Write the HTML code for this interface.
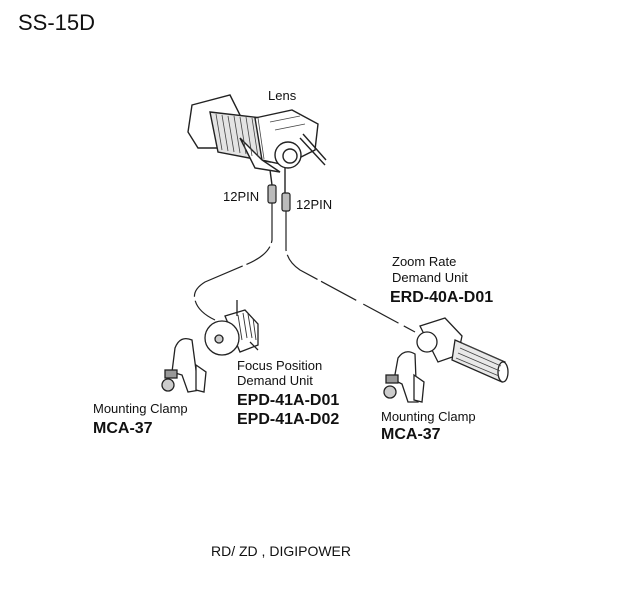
<!DOCTYPE html>
<html><head><meta charset="utf-8"><style>
body{margin:0;background:#fff;}
svg{display:block;}
text{font-family:"Liberation Sans",sans-serif;fill:#111;}
.b{font-weight:bold;}
</style></head><body>
<svg width="633" height="605" viewBox="0 0 633 605" xmlns="http://www.w3.org/2000/svg">
<rect width="633" height="605" fill="#fff"/>
<text x="18" y="30" font-size="22" fill="#222">SS-15D</text>

<!-- Lens -->
<g stroke="#222" stroke-width="1.4" fill="#fff">
  <path d="M192 105 L230 95 L240 115 L240 148 L198 148 L188 132 Z"/>
  <path d="M210 112 L262 118 L270 162 L218 152 Z" fill="#e4e4e4"/>
  <path d="M255 118 L292 110 L318 124 L315 150 L285 165 L262 160 Z"/>
  <path d="M240 138 L262 160 L280 172 L255 168 Z"/>
  <circle cx="288" cy="155" r="13"/>
  <circle cx="290" cy="156" r="7"/>
  <path d="M300 138 L325 165 M303 134 L326 160" />
  <path d="M270 170 L272 185" />
  <path d="M285 168 L285 193" />
</g>
<g stroke="#444" stroke-width="0.8">
  <path d="M216 114 L222 150 M222 115 L228 151 M228 116 L234 152 M234 116 L240 153 M240 117 L246 154 M246 117 L252 156 M252 118 L258 157 M258 118 L264 159"/>
  <path d="M270 122 L300 116 M275 130 L305 124"/>
</g>
<text x="268" y="100" font-size="13">Lens</text>
<!-- connectors -->
<g stroke="#222" stroke-width="1.2" fill="#bbb">
  <rect x="268" y="185" width="8" height="18" rx="2"/>
  <rect x="282" y="193" width="8" height="18" rx="2"/>
</g>
<text x="223" y="201" font-size="13">12PIN</text>
<text x="296" y="209" font-size="13">12PIN</text>

<!-- cables -->
<g stroke="#222" stroke-width="1.2" fill="none">
  <path d="M272 203 L272 240 Q270 255 245 265 L205 282 Q192 290 195 300 Q198 312 215 320" stroke-dasharray="40 4 30 4 60 4 200"/>
  <path d="M286 211 L286 250 Q288 262 300 270 L415 332" stroke-dasharray="40 4 40 4 40 8 40 6 100"/>
</g>

<!-- Focus demand unit -->
<g stroke="#222" stroke-width="1.3" fill="#fff">
  <path d="M225 316 L245 310 L258 324 L258 345 L240 352 Z"/>
  <circle cx="222" cy="338" r="17"/>
  <circle cx="219" cy="339" r="4" fill="#ccc"/>
  <path d="M237 300 L237 316 M250 342 L258 350"/>
</g>
<g stroke="#333" stroke-width="0.9"><path d="M238 315 L242 340 M243 313 L247 338 M248 314 L252 338 M253 318 L256 340"/></g>
<text x="237" y="370" font-size="13">Focus Position</text>
<text x="237" y="385" font-size="13">Demand Unit</text>
<text x="237" y="405" font-size="16" class="b">EPD-41A-D01</text>
<text x="237" y="424" font-size="16" class="b">EPD-41A-D02</text>

<!-- Left clamp -->
<g stroke="#222" stroke-width="1.3" fill="#fff">
  <path d="M175 348 Q180 335 192 340 L196 370 L200 390 L188 392 L182 375 L172 372 Z"/>
  <path d="M196 365 L206 372 L204 392 L196 390 Z"/>
  <rect x="165" y="370" width="12" height="8" fill="#999"/>
  <circle cx="168" cy="385" r="6" fill="#ccc"/>
</g>
<text x="93" y="413" font-size="13">Mounting Clamp</text>
<text x="93" y="433" font-size="16" class="b">MCA-37</text>

<!-- Zoom demand unit -->
<g stroke="#222" stroke-width="1.3" fill="#fff">
  <path d="M420 326 L445 318 L462 336 L458 355 L438 362 Z"/>
  <circle cx="427" cy="342" r="10"/>
  <path d="M455 340 L505 362 L502 382 L452 360 Z" fill="#e8e8e8"/>
  <ellipse cx="503" cy="372" rx="5" ry="10" />
</g>
<g stroke="#444" stroke-width="0.8"><path d="M462 343 L502 361 M460 348 L501 366 M458 353 L500 371 M456 358 L499 376"/></g>
<text x="392" y="266" font-size="13">Zoom Rate</text>
<text x="392" y="282" font-size="13">Demand Unit</text>
<text x="390" y="302" font-size="16" class="b">ERD-40A-D01</text>

<!-- Right clamp -->
<g stroke="#222" stroke-width="1.3" fill="#fff">
  <path d="M398 358 Q405 348 415 354 L416 380 L418 402 L408 402 L402 384 L394 380 Z"/>
  <path d="M414 375 L424 382 L422 402 L414 400 Z"/>
  <rect x="386" y="375" width="12" height="8" fill="#999"/>
  <circle cx="390" cy="392" r="6" fill="#ccc"/>
</g>
<text x="381" y="421" font-size="13">Mounting Clamp</text>
<text x="381" y="439" font-size="16" class="b">MCA-37</text>

<text x="211" y="556" font-size="14" fill="#222">RD/ ZD , DIGIPOWER</text>
</svg>
</body></html>
